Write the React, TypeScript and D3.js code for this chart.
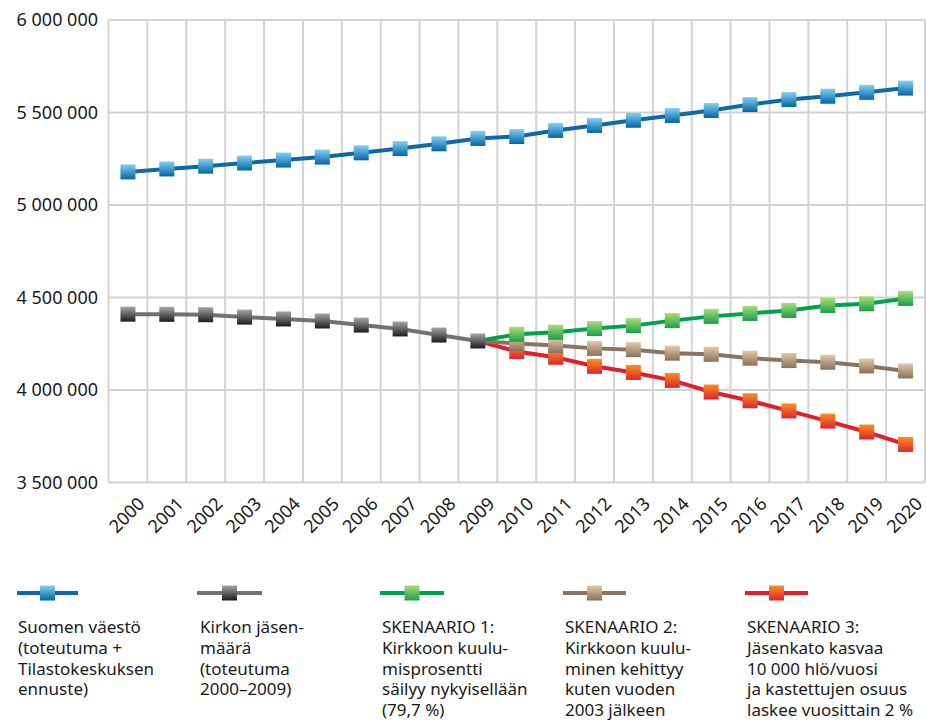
import React from 'react';
import * as d3 from 'd3';

const years = ['2000', '2001', '2002', '2003', '2004', '2005', '2006', '2007', '2008', '2009', '2010',
  '2011', '2012', '2013', '2014', '2015', '2016', '2017', '2018', '2019', '2020'];

// values in thousands
const population = [5179, 5195, 5210, 5227, 5243, 5259, 5282, 5305, 5331, 5360, 5370,
  5403, 5430, 5458, 5484, 5511, 5543, 5570, 5588, 5609, 5632];
const members = [4410, 4409, 4407, 4394, 4384, 4373, 4351, 4330, 4297, 4265];
const scenario1 = [4265, 4301, 4312, 4332, 4348, 4375, 4398, 4414, 4430, 4457, 4466, 4495];
const scenario2 = [4265, 4252, 4240, 4225, 4218, 4199, 4193, 4172, 4159, 4150, 4130, 4103];
const scenario3 = [4265, 4208, 4177, 4128, 4095, 4052, 3989, 3942, 3887, 3832, 3773, 3706];

const yTicks = [3500000, 4000000, 4500000, 5000000, 5500000, 6000000];

const legendLabels = [
  ['Suomen väestö', '(toteutuma +', 'Tilastokeskuksen', 'ennuste)'],
  ['Kirkon jäsen-', 'määrä', '(toteutuma', '2000–2009)'],
  ['SKENAARIO 1:', 'Kirkkoon kuulu-', 'misprosentti', 'säilyy nykyisellään', '(79,7 %)'],
  ['SKENAARIO 2:', 'Kirkkoon kuulu-', 'minen kehittyy', 'kuten vuoden', '2003 jälkeen'],
  ['SKENAARIO 3:', 'Jäsenkato kasvaa', '10 000 hlö/vuosi', 'ja kastettujen osuus', 'laskee vuosittain 2 %'],
];

const styles = [
  { id: 'blue', line: '#0f69a8', top: '#86d0f2', bottom: '#0066a6' },
  { id: 'gray', line: '#6e746e', top: '#a6a6a6', bottom: '#1c1c1c' },
  { id: 'green', line: '#00a24c', top: '#addb7a', bottom: '#17a047' },
  { id: 'brown', line: '#8a7361', top: '#e3c8a8', bottom: '#89705a' },
  { id: 'red', line: '#e11f2b', top: '#f29428', bottom: '#e12229' },
];

const series = [
  { style: 0, start: 0, values: population },
  { style: 4, start: 9, values: scenario3 },
  { style: 3, start: 9, values: scenario2 },
  { style: 2, start: 9, values: scenario1 },
  { style: 1, start: 0, values: members },
];

const font = '"Noto Sans", "Open Sans", sans-serif';

export default function App() {
  const left = 108.5, right = 925, top = 20, bottom = 482.5;
  const x = d3.scaleBand<string>().domain(years).range([left, right]).padding(0);
  const bw = x.bandwidth();
  const cx = (yr: string) => (x(yr) as number) + bw / 2;
  const y = d3.scaleLinear().domain([3500000, 6000000]).range([bottom, top]);
  const fmt = (v: number) => d3.format(',')(v).replace(/,/g, ' ');
  const line = d3.line<[number, number]>().x(d => d[0]).y(d => d[1]);
  const ms = 15;

  const marker = (key: string, px: number, py: number, st: number) => (
    <rect key={key} x={px - ms / 2} y={py - ms / 2} width={ms} height={ms} fill={`url(#g-${styles[st].id})`} />
  );

  const legendX = [18, 200, 382, 565, 747];
  const legendLine = [[17, 78], [197, 262], [380, 444], [563, 626], [745, 808]];
  const legendStyle = [0, 1, 2, 3, 4];

  return (
    <svg width={926} height={720} style={{ position: 'absolute', left: 0, top: 0, background: '#fff' }} fontFamily={font}>
      <defs>
        {styles.map(s => (
          <linearGradient key={s.id} id={`g-${s.id}`} x1="0" y1="0" x2="0" y2="1">
            <stop offset="0%" stopColor={s.top} />
            <stop offset="100%" stopColor={s.bottom} />
          </linearGradient>
        ))}
      </defs>
      {/* grid */}
      <g stroke="#d3d3d3" strokeWidth={2}>
        {yTicks.map(t => (
          <line key={t} x1={left} x2={right} y1={y(t)} y2={y(t)} />
        ))}
        {d3.range(years.length + 1).map(i => (
          <line key={i} x1={left + i * bw} x2={left + i * bw} y1={top} y2={bottom} />
        ))}
      </g>
      {/* y labels */}
      {yTicks.map(t => (
        <text key={t} x={98} y={y(t) + 6} textAnchor="end" fontSize={18} fill="#1a1a1a">{fmt(t)}</text>
      ))}
      {/* x labels */}
      {years.map(yr => (
        <text key={yr} transform={`translate(${cx(yr) + 9},${496}) rotate(-45)`} dy="0.7em" textAnchor="end"
          fontSize={18} fill="#1a1a1a">{yr}</text>
      ))}
      {/* series */}
      {series.map((s, si) => {
        const pts: [number, number][] = s.values.map((v, i) => [cx(years[s.start + i]), y(v * 1000)]);
        return (
          <g key={si}>
            <path d={line(pts) as string} fill="none" stroke={styles[s.style].line} strokeWidth={4} />
            {pts.map((p, i) => (s.start > 0 && i === 0 ? null : marker(`${si}-${i}`, p[0], p[1], s.style)))}
          </g>
        );
      })}
      {/* legend */}
      {legendLabels.map((lines, li) => (
        <g key={li}>
          <line x1={legendLine[li][0]} x2={legendLine[li][1]} y1={593} y2={593}
            stroke={styles[legendStyle[li]].line} strokeWidth={4} />
          {marker(`lg-${li}`, (legendLine[li][0] + legendLine[li][1]) / 2, 593, legendStyle[li])}
          {lines.map((t, k) => (
            <text key={k} x={legendX[li]} y={633 + k * 20.8} fontSize={17} fill="#1a1a1a">{t}</text>
          ))}
        </g>
      ))}
    </svg>
  );
}
